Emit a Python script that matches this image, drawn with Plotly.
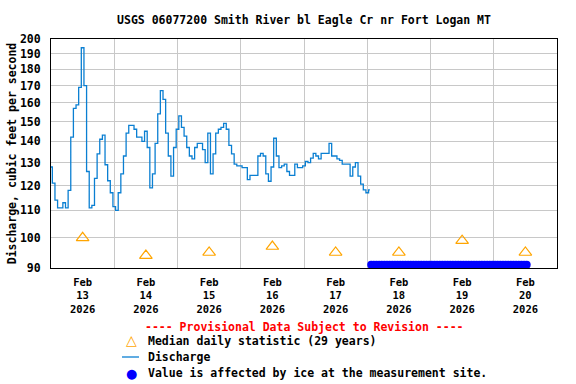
import math
import pandas as pd
import plotly.graph_objects as go

# ---------------- data ----------------
title_text = "USGS 06077200 Smith River bl Eagle Cr nr Fort Logan MT"
y_title = "Discharge, cubic feet per second"
provisional_text = "---- Provisional Data Subject to Revision ----"

discharge_name = "Discharge"
median_name = "Median daily statistic (29 years)"
ice_name = "Value is affected by ice at the measurement site."

discharge_start = "2026-02-13 00:00"
discharge_values = [
    128, 121, 114, 111, 111, 113, 111, 118, 142, 157,
    159, 169, 194, 170, 126, 111, 112, 123, 134, 141,
    143, 129, 122, 117, 111.5, 110, 117, 125, 133, 144,
    148, 148, 146, 142, 142, 140, 145, 137, 119, 125,
    139, 154, 167, 162, 144, 133, 124, 137, 146, 153,
    147, 142.5, 137, 133, 131.7, 137, 139, 139, 136, 130,
    144, 125, 134, 144, 146, 147, 149, 146, 138, 134,
    129.3, 128.5, 128.5, 127.7, 127.7, 122.5, 124.3, 124.3, 124.3, 133,
    134.2, 133, 125, 121.8, 128, 141.5, 133, 127.7, 128.5, 129.3,
    126, 124.3, 124.3, 129.3, 127.7, 127.7, 128.5, 130.5, 130, 132,
    134.2, 133, 131.7, 134.2, 134.2, 134.2, 139, 133, 133, 131.7,
    131, 129.3, 129.3, 129.3, 124, 128, 130, 124, 120.6, 118.2,
    117, 118.2,
]

median_dates = ["2026-02-13 12:00", "2026-02-14 12:00", "2026-02-15 12:00",
                "2026-02-16 12:00", "2026-02-17 12:00", "2026-02-18 12:00",
                "2026-02-19 12:00", "2026-02-20 12:00"]
median_values = [100, 94, 95, 97, 95, 95, 99, 95]

ice_start = "2026-02-18 01:30"
ice_end = "2026-02-20 12:30"
ice_level = 91

y_ticks = [90, 100, 110, 120, 130, 140, 150, 160, 170, 180, 190, 200]
x_range = ["2026-02-13", "2026-02-21"]

# ---------------- colours / layout constants ----------------
C_MEDIAN = "#FFA500"
C_Q = "#0a7fd2"
C_ICE = "#0000FF"
FONT = "DejaVu Sans Mono"
FS = 11.5
W, H = 576, 384
L, R, T, B = 51, 19, 39, 116
PW, PH = W - L - R, H - T - B


def py(px):
    """pixel row -> paper y"""
    return (H - B - px) / PH


def pxx(x):
    """pixel column -> paper x"""
    return (x - L) / PW


def f(size=FS, color="black", family=FONT):
    return dict(family=family, size=size, color=color, weight="bold")


# ---------------- build ----------------
discharge_times = pd.date_range(discharge_start, periods=len(discharge_values), freq="h")
ice_times = pd.date_range(ice_start, ice_end, freq="h")
ice_values = [ice_level] * len(ice_times)

fig = go.Figure()
fig.add_trace(go.Scatter(
    x=median_dates, y=median_values, mode="markers", name=median_name,
    marker=dict(symbol="triangle-up-open", size=11, color=C_MEDIAN,
                line=dict(width=1.2, color=C_MEDIAN)),
    showlegend=False,
))
fig.add_trace(go.Scatter(
    x=discharge_times, y=discharge_values, mode="lines", name=discharge_name,
    line=dict(color=C_Q, width=1.3, shape="hvh"), showlegend=False,
))
fig.add_trace(go.Scatter(
    x=ice_times, y=ice_values, mode="markers", name=ice_name,
    marker=dict(symbol="circle", size=8, color=C_ICE, line=dict(width=0)),
    cliponaxis=False, showlegend=False,
))

# custom legend (compact, like the USGS graphic)
legend_rows = [(341, median_name), (357, discharge_name), (373, ice_name)]
annotations = [dict(text=provisional_text, x=0.5, xref="paper", y=py(327), yref="paper",
                    xanchor="center", yanchor="middle", showarrow=False,
                    font=f(color="#FF0000"))]
for yy, name in legend_rows:
    annotations.append(dict(text=name, x=pxx(146), xref="paper", y=py(yy), yref="paper",
                            xanchor="left", yanchor="middle", showarrow=False, font=f()))
annotations.append(dict(text="△", x=pxx(131), xref="paper", y=py(340), yref="paper",
                        xanchor="center", yanchor="middle", showarrow=False,
                        font=dict(family="DejaVu Sans", size=14, color=C_MEDIAN)))
annotations.append(dict(text="●", x=pxx(131), xref="paper", y=py(373), yref="paper",
                        xanchor="center", yanchor="middle", showarrow=False,
                        font=dict(family="DejaVu Sans", size=13, color=C_ICE)))
shapes = [dict(type="line", xref="paper", yref="paper", x0=pxx(122), x1=pxx(139),
               y0=py(357), y1=py(357), line=dict(color=C_Q, width=1.3))]

fig.update_layout(
    width=W, height=H,
    margin=dict(l=L, r=R, t=T, b=B, autoexpand=False),
    paper_bgcolor="white", plot_bgcolor="white",
    font=f(),
    title=dict(text=title_text, x=0.5, xref="paper", xanchor="center",
               y=1 - 20 / H, yref="container", yanchor="middle", font=f()),
    showlegend=False,
    annotations=annotations,
    shapes=shapes,
)

fig.update_xaxes(
    type="date", range=x_range, tick0=x_range[0], dtick=86400000,
    tickformat="%b<br>%d<br>%Y", ticklabelmode="period",
    showgrid=True, gridcolor="#c8c8c8", gridwidth=1,
    showline=True, linecolor="black", linewidth=1, mirror=True,
    ticks="", ticklabelstandoff=4, zeroline=False, automargin=False,
    tickfont=f(size=10.5),
)
fig.update_yaxes(
    type="log", range=[math.log10(y_ticks[0]), math.log10(y_ticks[-1])],
    tickvals=y_ticks, ticktext=[str(v) for v in y_ticks],
    showgrid=True, gridcolor="#c8c8c8", gridwidth=1,
    showline=True, linecolor="black", linewidth=1, mirror=True,
    ticks="", ticklabelstandoff=7, zeroline=False,
    tickfont=f(),
    title=dict(text=y_title, standoff=0, font=f()),
    automargin=False,
)

fig.write_html("out.html", config={"displayModeBar": False},
               post_script="document.body.style.margin='0px';")
